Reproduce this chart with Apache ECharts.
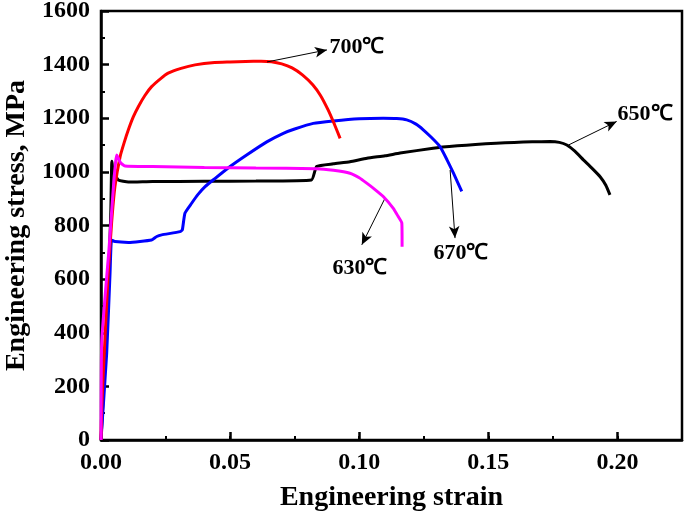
<!DOCTYPE html>
<html>
<head>
<meta charset="utf-8">
<script src="https://cdn.jsdelivr.net/npm/echarts@6/dist/echarts.min.js"></script>
<style>html,body{margin:0;padding:0;background:#fff}#c{width:685px;height:518px}</style>
</head>
<body>
<div id="c"></div>
<script>
// ---- data ----
const xTicks = [0, 0.05, 0.10, 0.15, 0.20];
const yTicks = [0, 200, 400, 600, 800, 1000, 1200, 1400, 1600];

const strain650 = [0, 0.002, 0.003, 0.0038, 0.0042, 0.0048, 0.0067, 0.0106, 0.02, 0.04, 0.06, 0.0815, 0.0835, 0.09, 0.0964, 0.103, 0.11, 0.1158, 0.1286, 0.138, 0.145, 0.153, 0.16, 0.167, 0.1739, 0.1775, 0.1804, 0.1835, 0.1868, 0.19, 0.1933, 0.1955, 0.1971];
const stress650 = [0, 380, 620, 850, 1040, 1000, 970, 962, 964, 965, 966, 970, 1020, 1030, 1038, 1051, 1060, 1070, 1088, 1097, 1102, 1107, 1110, 1112, 1113, 1110, 1100, 1077, 1045, 1015, 982, 950, 914];

const strain670 = [0, 0.0022, 0.0035, 0.0041, 0.0054, 0.0106, 0.0196, 0.0216, 0.0235, 0.0306, 0.0315, 0.0325, 0.0351, 0.0375, 0.0403, 0.0441, 0.05, 0.0564, 0.0642, 0.0706, 0.075, 0.0822, 0.09, 0.1, 0.1093, 0.1145, 0.1184, 0.122, 0.1248, 0.128, 0.1313, 0.134, 0.1365, 0.1397];
const stress670 = [0, 323, 622, 746, 740, 737, 746, 759, 765, 777, 784, 846, 883, 915, 945, 975, 1020, 1063, 1112, 1144, 1160, 1181, 1190, 1198, 1200, 1199, 1194, 1178, 1157, 1128, 1094, 1045, 995, 927];

const strain700 = [0, 0.0003, 0.0015, 0.0028, 0.0041, 0.0054, 0.0074, 0.009, 0.0106, 0.0125, 0.0145, 0.017, 0.0196, 0.023, 0.026, 0.031, 0.0364, 0.044, 0.05, 0.056, 0.062, 0.066, 0.07, 0.074, 0.078, 0.082, 0.085, 0.088, 0.0905, 0.0926];
const stress700 = [0, 124, 373, 622, 809, 945, 1057, 1110, 1157, 1205, 1244, 1285, 1318, 1347, 1368, 1386, 1399, 1408, 1410, 1412, 1413, 1411, 1403, 1388, 1362, 1325, 1285, 1230, 1175, 1125];

const strain630 = [0, 0.0003, 0.003, 0.0061, 0.0075, 0.0093, 0.02, 0.04, 0.06, 0.0835, 0.09, 0.0964, 0.1, 0.1029, 0.106, 0.1093, 0.1132, 0.115, 0.1165, 0.1166];
const stress630 = [0, 370, 700, 1063, 1035, 1022, 1020, 1016, 1014, 1012, 1006, 995, 978, 958, 935, 908, 864, 835, 809, 721];

const tempLabels = ['650℃', '670℃', '700℃', '630℃'];
const arrowFrom = [[0.181, 1100], [0.1352, 1007], [0.0643, 1410], [0.110, 902]];
const arrowTo   = [[0.1997, 1188], [0.1371, 753], [0.0875, 1455], [0.101, 728]];
const labelAt   = [[0.2107, 1213], [0.1394, 698], [0.0991, 1466], [0.1003, 642]];

// ---- chart ----
const zip = (a, b) => a.map((v, i) => [v, b[i]]);
const colors = ['#000000', '#0000ff', '#ff0000', '#ff00ff'];
const curves = [zip(strain650, stress650), zip(strain670, stress670), zip(strain700, stress700), zip(strain630, stress630)];
const FONT = '"Liberation Serif", "Times New Roman", serif';

const series = curves.map((d, i) => ({
  type: 'line',
  data: d,
  showSymbol: false,
  symbol: 'none',
  smooth: 0.15,
  lineStyle: { color: colors[i], width: 3 },
  itemStyle: { color: colors[i] },
  z: 2 + i,
  animation: false,
  markLine: {
    silent: true,
    animation: false,
    symbol: ['none', 'arrow'],
    symbolSize: 10,
    lineStyle: { color: '#000', width: 1, type: 'solid' },
    itemStyle: { color: '#000' },
    label: { show: false },
    data: [[{ coord: arrowFrom[i], symbol: 'none' }, { coord: arrowTo[i], symbol: 'arrow', symbolSize: [8, 12] }]]
  },
  markPoint: {
    silent: true,
    animation: false,
    symbol: 'circle',
    symbolSize: 0,
    itemStyle: { color: 'rgba(0,0,0,0)' },
    label: {
      show: true,
      position: 'inside',
      formatter: tempLabels[i],
      color: '#000',
      fontFamily: FONT,
      fontWeight: 'bold',
      fontSize: 22
    },
    data: [{ coord: labelAt[i] }]
  }
}));

const chart = echarts.init(document.getElementById('c'), null, { renderer: 'canvas' });
chart.setOption({
  backgroundColor: '#fff',
  animation: false,
  grid: { left: 101, right: 3, top: 11, bottom: 78, outerBoundsMode: 'none', containLabel: false, show: true, borderColor: '#000', borderWidth: 2.5, backgroundColor: 'transparent' },
  xAxis: [{
    type: 'value', min: xTicks[0], max: 0.225, interval: xTicks[1] - xTicks[0],
    name: 'Engineering strain', nameLocation: 'middle', nameGap: 44,
    nameTextStyle: { fontFamily: FONT, fontWeight: 'bold', fontSize: 28, color: '#000' },
    axisLine: { show: true, lineStyle: { color: '#000', width: 2.5 } },
    axisTick: { show: true, inside: true, length: 8, lineStyle: { color: '#000', width: 2.5 } },
    axisLabel: { showMaxLabel: false, margin: 11, color: '#000', fontFamily: FONT, fontWeight: 'bold', fontSize: 24,
      formatter: v => v.toFixed(2) },
    splitLine: { show: false }
  }, {
    type: 'value', min: 0, max: 0.225, interval: 0.025, position: 'bottom',
    axisLine: { show: false },
    axisTick: { show: true, inside: true, length: 4, lineStyle: { color: '#000', width: 2 } },
    axisLabel: { show: false },
    splitLine: { show: false }
  }],
  yAxis: {
    type: 'value', min: yTicks[0], max: yTicks[yTicks.length - 1], interval: yTicks[1] - yTicks[0],
    name: 'Engineering stress, MPa', nameLocation: 'middle', nameGap: 64,
    nameTextStyle: { fontFamily: FONT, fontWeight: 'bold', fontSize: 28, color: '#000' },
    axisLine: { show: true, lineStyle: { color: '#000', width: 2.5 } },
    axisTick: { show: true, inside: true, length: 8, lineStyle: { color: '#000', width: 2.5 } },
    minorTick: { show: true, splitNumber: 2, length: 4, lineStyle: { color: '#000', width: 2 } },
    axisLabel: { margin: 11, color: '#000', fontFamily: FONT, fontWeight: 'bold', fontSize: 24,
      formatter: v => String(v) },
    splitLine: { show: false }
  },
  series: series
});
</script>
</body>
</html>
